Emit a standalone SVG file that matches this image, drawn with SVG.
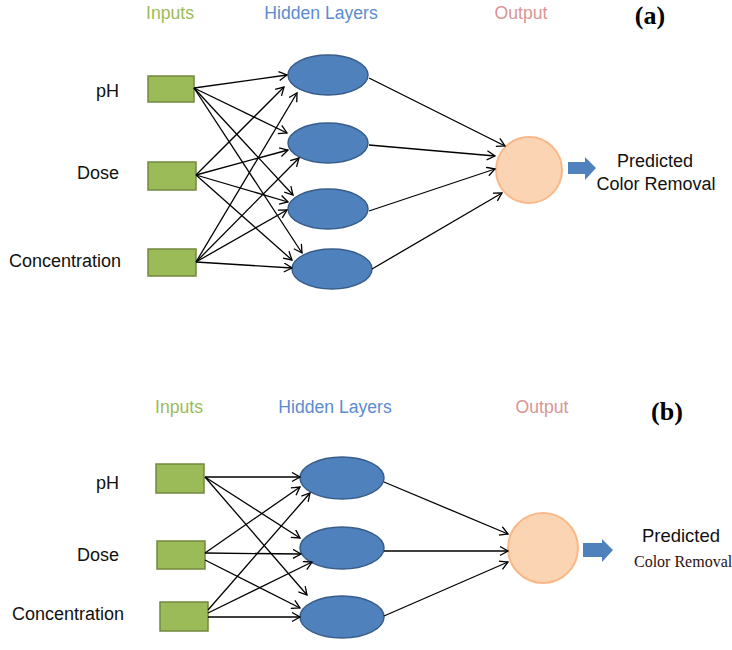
<svg xmlns="http://www.w3.org/2000/svg" width="732" height="650" viewBox="0 0 732 650">
<defs>
<marker id="ah" markerUnits="userSpaceOnUse" markerWidth="12" markerHeight="12" refX="9" refY="5" orient="auto">
<path d="M1,0.5 L9,5 L1,9.5" fill="none" stroke="#000" stroke-width="1.3"/>
</marker>
<style>
.t{font-family:"Liberation Sans",Arial,sans-serif;font-size:18px;fill:#111}
.h{font-size:17.6px}
.hi{fill:#9BBB59}.hh{fill:#5B8CCF}.ho{fill:#D99594}
.ab{font-family:"Liberation Serif","Times New Roman",serif;font-weight:bold;font-size:26px;fill:#000}
.in{fill:#9BBB59;stroke:#71893F;stroke-width:1.5}
.hd{fill:#4F81BD;stroke:#385D8A;stroke-width:1.5}
.out{fill:#FBD4B4;stroke:#F9B887;stroke-width:2}
.blk{fill:#4F81BD}
.c line{stroke:#000;stroke-width:1.3;marker-end:url(#ah)}
</style>
</defs>
<rect width="732" height="650" fill="#fff"/>

<!-- Panel (a) -->
<g id="a-headings">
<text class="t h hi" x="170" y="19" text-anchor="middle">Inputs</text>
<text class="t h hh" x="321" y="19" text-anchor="middle">Hidden Layers</text>
<text class="t h ho" x="521" y="19" text-anchor="middle">Output</text>
<text class="ab" x="650" y="24" text-anchor="middle">(a)</text>
</g>
<g id="a-in-ph"><rect class="in" x="148" y="76" width="46" height="26"/><text class="t" x="119" y="97" text-anchor="end">pH</text></g>
<g id="a-in-dose"><rect class="in" x="148" y="162" width="48" height="28"/><text class="t" x="119" y="179" text-anchor="end">Dose</text></g>
<g id="a-in-conc"><rect class="in" x="148" y="249" width="48" height="27"/><text class="t" x="121" y="267" text-anchor="end">Concentration</text></g>
<g id="a-h1"><ellipse class="hd" cx="328" cy="75" rx="40" ry="20"/></g>
<g id="a-h2"><ellipse class="hd" cx="328" cy="143" rx="40" ry="20"/></g>
<g id="a-h3"><ellipse class="hd" cx="328" cy="209" rx="40" ry="20"/></g>
<g id="a-h4"><ellipse class="hd" cx="332" cy="269" rx="40" ry="20"/></g>
<g id="a-out"><circle class="out" cx="529" cy="170" r="33"/></g>
<g id="a-result">
<polygon class="blk" points="568,162 585,162 585,157 596,168 585,180 585,174 568,174"/>
<text class="t" x="655" y="167" text-anchor="middle">Predicted</text>
<text class="t" x="656" y="190" text-anchor="middle">Color Removal</text>
</g>
<g id="a-connectors" class="c">
<line x1="194" y1="88" x2="287" y2="75"/>
<line x1="194" y1="88" x2="287" y2="133"/>
<line x1="194" y1="88" x2="293" y2="195"/>
<line x1="194" y1="88" x2="302" y2="253"/>
<line x1="196" y1="175" x2="284" y2="87"/>
<line x1="196" y1="175" x2="288" y2="150"/>
<line x1="196" y1="175" x2="288" y2="202"/>
<line x1="196" y1="175" x2="292" y2="260"/>
<line x1="196" y1="262" x2="297" y2="93"/>
<line x1="196" y1="262" x2="299" y2="158"/>
<line x1="196" y1="262" x2="287" y2="210"/>
<line x1="196" y1="262" x2="292" y2="268"/>
<line x1="369" y1="78" x2="505" y2="146"/>
<line x1="369" y1="145" x2="495" y2="156"/>
<line x1="369" y1="211" x2="495" y2="169"/>
<line x1="372" y1="269" x2="502" y2="193"/>
</g>

<!-- Panel (b) -->
<g id="b-headings">
<text class="t h hi" x="179" y="413" text-anchor="middle">Inputs</text>
<text class="t h hh" x="335" y="413" text-anchor="middle">Hidden Layers</text>
<text class="t h ho" x="542" y="413" text-anchor="middle">Output</text>
<text class="ab" x="667" y="420" text-anchor="middle">(b)</text>
</g>
<g id="b-in-ph"><rect class="in" x="156" y="464" width="48" height="29"/><text class="t" x="119" y="489" text-anchor="end">pH</text></g>
<g id="b-in-dose"><rect class="in" x="157" y="541" width="48" height="28"/><text class="t" x="119" y="561" text-anchor="end">Dose</text></g>
<g id="b-in-conc"><rect class="in" x="160" y="602" width="48" height="29"/><text class="t" x="124" y="620" text-anchor="end">Concentration</text></g>
<g id="b-h1"><ellipse class="hd" cx="342" cy="478" rx="42" ry="21"/></g>
<g id="b-h2"><ellipse class="hd" cx="342" cy="548" rx="42" ry="21"/></g>
<g id="b-h3"><ellipse class="hd" cx="342" cy="617" rx="42" ry="21"/></g>
<g id="b-out"><circle class="out" cx="543" cy="548" r="35"/></g>
<g id="b-result">
<polygon class="blk" points="583,543 602,543 602,539 613,550 602,562 602,557 583,557"/>
<text class="t" x="681" y="542" text-anchor="middle" style="font-size:18.5px">Predicted</text>
<text x="634" y="567" style="font-family:'Liberation Serif','Times New Roman',serif;font-size:16px;fill:#2a0f0f">Color Removal</text>
</g>
<g id="b-connectors" class="c">
<line x1="205" y1="477" x2="300" y2="477"/>
<line x1="205" y1="477" x2="300" y2="538"/>
<line x1="205" y1="477" x2="307" y2="595"/>
<line x1="205" y1="553" x2="300" y2="487"/>
<line x1="205" y1="553" x2="301" y2="554"/>
<line x1="205" y1="560" x2="300" y2="608"/>
<line x1="208" y1="610" x2="310" y2="493"/>
<line x1="208" y1="613" x2="312" y2="562"/>
<line x1="208" y1="617" x2="300" y2="617"/>
<line x1="384" y1="482" x2="508" y2="534"/>
<line x1="384" y1="551" x2="508" y2="551"/>
<line x1="384" y1="616" x2="508" y2="562"/>
</g>
</svg>
